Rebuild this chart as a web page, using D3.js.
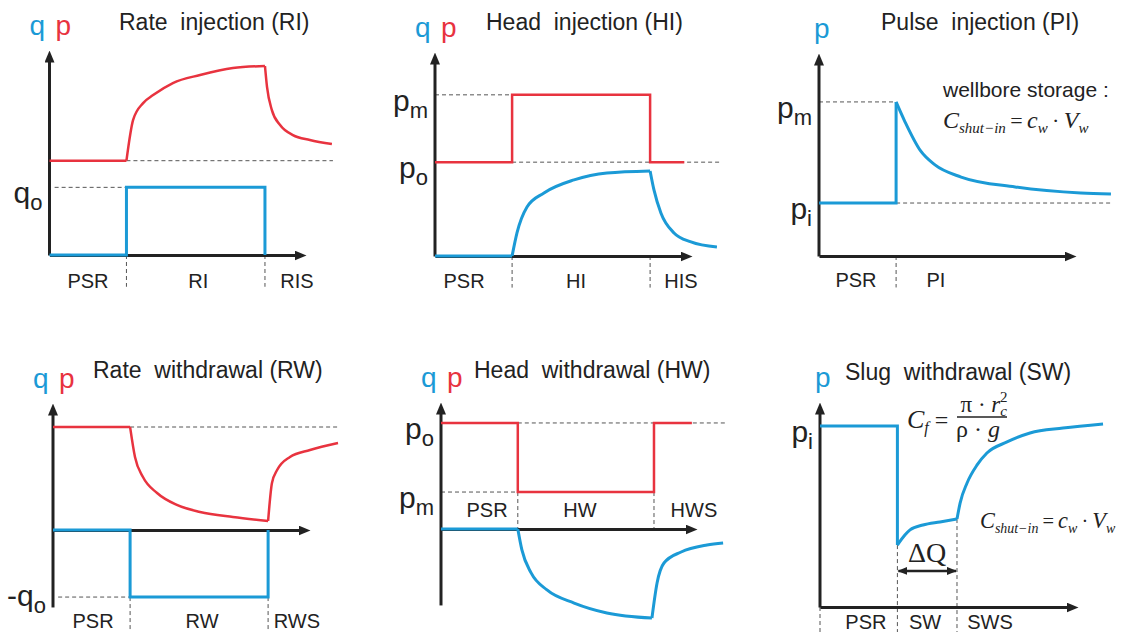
<!DOCTYPE html>
<html>
<meta charset="utf-8">
<style>
  body { margin: 0; background: #fff; }
  text { font-family: "Liberation Sans", Arial, sans-serif; fill: #222; }
  .title { font-size: 23px; white-space: pre; }
  .phase { font-size: 20px; text-anchor: middle; }
  .level { font-size: 30px; text-anchor: end; }
  .head { font-size: 28px; }
  .guide { stroke: #555; stroke-width: 1; stroke-dasharray: 4,3; fill: none; }
  .pline { stroke: #e8333f; stroke-width: 2.5; fill: none; stroke-linejoin: miter; }
  .qline { stroke: #1b9ad6; stroke-width: 3; fill: none; stroke-linejoin: miter; }
  .math { font-family: "Liberation Serif", "DejaVu Serif", serif; }
</style>
<body>
<div id="viz"></div>
<script src="https://d3js.org/d3.v7.min.js"></script>
<script>
// ---- data (time units 0..10 along x, level units 0..10 along y) ----
// each series is a list of pieces, pieces meet at sharp corners

// Rate injection
var riPressure = [
  [[0,4.6],[3.0,4.6]],
  [[3.0,4.6],[3.26,6.59],[3.65,7.41],[4.04,7.80],[4.81,8.39],[5.87,8.78],[7.15,9.12],[8.4,9.22]],
  [[8.4,9.22],[8.48,8.20],[8.67,7.07],[8.99,6.34],[9.49,5.85],[10.15,5.61],[11.01,5.41]]
];
var riRate = [[[0,0],[3.0,0],[3.0,3.3],[8.4,3.3],[8.4,0]]];
var riRefs = [[3.0,11.05,4.6],[0.2,3.0,3.3]];
var riDrops = [[3.0,0,-1.55],[8.4,0,-1.55]];
var riLevels = [["q","o",3.3]];
var riPhases = ["PSR","RI","RIS"];
var riPhaseAt = [1.5, 5.8, 9.65];

// Head injection
var hiPressure = [[[0,4.6],[3.0,4.6],[3.0,7.9],[8.37,7.9],[8.37,4.6],[9.7,4.6]]];
var hiRate = [
  [[0,0],[3.0,0]],
  [[3.0,0],[3.19,1.13],[3.58,2.40],[4.24,3.09],[5.41,3.73],[6.69,4.07],[8.37,4.17]],
  [[8.37,4.17],[8.52,3.24],[8.79,2.11],[9.30,1.13],[9.96,0.69],[10.97,0.44]]
];
var hiRefs = [[3.0,11.17,4.6],[0,3.0,7.9]];
var hiDrops = [[3.0,0,-1.55],[8.37,0,-1.55]];
var hiLevels = [["p","m",7.9],["p","o",4.6]];
var hiPhases = ["PSR","HI","HIS"];
var hiPhaseAt = [1.13, 5.49, 9.57];

// Pulse injection
var piPressure = [
  [[0,2.61],[3.0,2.61],[3.0,7.59]],
  [[3.0,7.59],[3.35,6.6],[3.94,5.2],[4.5,4.5],[5.53,3.89],[7.63,3.40],[10.19,3.10],[11.36,3.05]]
];
var piRefs = [[0,3.0,7.59],[3.0,11.36,2.61]];
var piDrops = [[3.0,0,-1.55]];
var piLevels = [["p","m",7.59],["p","i",2.61]];
var piPhases = ["PSR","PI"];
var piPhaseAt = [1.44, 4.55];

// Rate withdrawal
var rwPressure = [
  [[0,8.11],[3.0,8.11]],
  [[3.0,8.11],[3.19,5.75],[3.50,4.17],[4.05,2.91],[4.82,1.97],[5.72,1.42],[7.0,1.02],[8.37,0.71]],
  [[8.37,0.71],[8.52,3.70],[8.72,4.72],[9.22,5.75],[10.0,6.30],[11.09,6.85]]
];
var rwRate = [[[0,0],[3.0,0],[3.0,-5.28],[8.37,-5.28],[8.37,0]]];
var rwRefs = [[3.0,11.09,8.11],[0.2,3.0,-5.28]];
var rwDrops = [[3.0,-5.28,-8.0],[8.37,-5.28,-8.0]];
var rwLevels = [["-q","o",-5.28]];
var rwPhases = ["PSR","RW","RWS"];
var rwPhaseAt = [1.56, 5.8, 9.49];

// Head withdrawal
var hwPressure = [[[0,8.35],[3.0,8.35],[3.0,2.91],[8.32,2.91],[8.32,8.35],[9.8,8.35]]];
var hwRate = [
  [[0,0],[3.0,0]],
  [[3.0,0],[3.16,-1.65],[3.52,-3.46],[4.14,-4.80],[5.2,-5.83],[6.48,-6.61],[8.24,-7.01]],
  [[8.24,-7.01],[8.44,-4.25],[8.71,-2.68],[9.38,-1.81],[10.39,-1.26],[11.02,-1.10]]
];
var hwRefs = [[3.0,11.13,8.35],[0,3.0,2.91]];
var hwDrops = [[3.0,2.91,0],[8.32,2.91,0]];
var hwLevels = [["p","o",8.35],["p","m",2.91]];
var hwPhases = ["PSR","HW","HWS"];
var hwPhaseAt = [1.8, 5.43, 9.88];

// Slug withdrawal
var swPressure = [
  [[0,8.83],[3.0,8.83],[3.0,3.02]],
  [[3.0,3.02],[3.29,3.51],[3.49,3.76],[3.99,4.0],[4.65,4.15],[5.31,4.29]],
  [[5.31,4.29],[5.43,5.07],[5.70,6.05],[6.09,6.93],[6.47,7.51],[7.25,8.05],[8.14,8.49],[9.42,8.73],[10.97,8.93]]
];
var swRefs = [];
var swDrops = [[0,0,-1.22],[3.0,3.02,-1.22],[5.31,4.29,-1.22]];
var swLevels = [["p","i",8.83]];
var swPhases = ["PSR","SW","SWS"];
var swPhaseAt = [1.78, 4.07, 6.59];
var swDeltaQ = [3.0, 5.31, 1.76];

// ---- layout (pixels) ----
var panels = [
  {title:"Rate  injection (RI)", tx:119, tyT:30, ox:49.5, ax:306, oy:255, ty:50, yMin:0, phaseY:288, head:"qp",
   p:riPressure, q:riRate, refs:riRefs, drops:riDrops, levels:riLevels, phases:riPhases, phaseAt:riPhaseAt},
  {title:"Head  injection (HI)", tx:486, tyT:30, ox:435, ax:692, oy:256, ty:52, yMin:0, phaseY:288, head:"qp",
   p:hiPressure, q:hiRate, refs:hiRefs, drops:hiDrops, levels:hiLevels, phases:hiPhases, phaseAt:hiPhaseAt},
  {title:"Pulse  injection (PI)", tx:881, tyT:30, ox:819, ax:1076, oy:256, ty:53, yMin:0, phaseY:287, head:"p",
   p:[], q:piPressure, refs:piRefs, drops:piDrops, levels:piLevels, phases:piPhases, phaseAt:piPhaseAt},
  {title:"Rate  withdrawal (RW)", tx:93, tyT:378, ox:53, ax:310, oy:530, ty:403, yMin:-6.06, phaseY:628, head:"qp", levelDy:-7,
   p:rwPressure, q:rwRate, refs:rwRefs, drops:rwDrops, levels:rwLevels, phases:rwPhases, phaseAt:rwPhaseAt},
  {title:"Head  withdrawal (HW)", tx:474, tyT:378, ox:441, ax:697, oy:529, ty:402, yMin:-5.98, phaseY:517, head:"qp",
   p:hwPressure, q:hwRate, refs:hwRefs, drops:hwDrops, levels:hwLevels, phases:hwPhases, phaseAt:hwPhaseAt},
  {title:"Slug  withdrawal (SW)", tx:845, tyT:380, ox:820, ax:1078, oy:607, ty:402, yMin:0, phaseY:629, head:"p",
   p:[], q:swPressure, refs:swRefs, drops:swDrops, levels:swLevels, phases:swPhases, phaseAt:swPhaseAt}
];

var svg = d3.select("#viz").append("svg")
  .attr("width", 1121)
  .attr("height", 632);

var defs = svg.append("defs");
defs.append("marker").attr("id","head")
  .attr("viewBox","0 0 12 10").attr("refX",2).attr("refY",5)
  .attr("markerWidth",12).attr("markerHeight",10)
  .attr("markerUnits","userSpaceOnUse").attr("orient","auto-start-reverse")
  .append("path").attr("d","M0,0L12,5L0,10z").attr("fill","#222");
defs.append("marker").attr("id","small")
  .attr("viewBox","0 0 10 8").attr("refX",9).attr("refY",4)
  .attr("markerWidth",10).attr("markerHeight",8)
  .attr("markerUnits","userSpaceOnUse").attr("orient","auto-start-reverse")
  .append("path").attr("d","M0,0L10,4L0,8z").attr("fill","#222");

panels.forEach(function(cfg) {
  var x = d3.scaleLinear().domain([0,10]).range([cfg.ox, cfg.ax]);
  var y = d3.scaleLinear().domain([0,10]).range([cfg.oy, cfg.ty]);
  var g = svg.append("g");

  // dashed guides
  cfg.refs.forEach(function(r) {
    g.append("line").attr("class","guide")
      .attr("x1", x(r[0])).attr("x2", x(r[1]))
      .attr("y1", y(r[2])).attr("y2", y(r[2]));
  });
  cfg.drops.forEach(function(d) {
    g.append("line").attr("class","guide")
      .attr("x1", x(d[0])).attr("x2", x(d[0]))
      .attr("y1", y(d[1])).attr("y2", y(d[2]));
  });

  // axes: no ticks, only the domain line with an arrow head
  var xAx = d3.scaleLinear().domain([0,10]).range([cfg.ox, cfg.ax - 10]);
  var yAx = d3.scaleLinear().domain([cfg.yMin,10]).range([y(cfg.yMin), cfg.ty + 10]);
  g.append("g").attr("transform","translate(0," + y(0) + ")")
    .call(d3.axisBottom(xAx).tickValues([]).tickSizeOuter(0))
    .select(".domain").attr("stroke","#222").attr("stroke-width",3).attr("marker-end","url(#head)");
  g.append("g").attr("transform","translate(" + (cfg.ox - 0.5) + ",0)")
    .call(d3.axisLeft(yAx).tickValues([]).tickSizeOuter(0))
    .select(".domain").attr("stroke","#222").attr("stroke-width",3).attr("marker-end","url(#head)");

  function drawSeries(pieces, cls) {
    pieces.forEach(function(pc) {
      var steps = pc.some(function(p, i) { return i > 0 && p[0] === pc[i-1][0]; });
      var line = d3.line()
        .x(function(d) { return x(d[0]); })
        .y(function(d) { return y(d[1]); })
        .curve(steps ? d3.curveLinear : d3.curveMonotoneX);
      g.append("path").datum(pc).attr("class", cls).attr("d", line);
    });
  }
  drawSeries(cfg.p, "pline");
  drawSeries(cfg.q, "qline");

  // level labels with subscripts
  cfg.levels.forEach(function(l) {
    var t = g.append("text").attr("class","level")
      .attr("x", cfg.ox - 7)
      .attr("y", y(l[2]) + 16 + (cfg.levelDy || 0));
    t.append("tspan").text(l[0]);
    t.append("tspan").attr("font-size", 22).attr("dy", 7).text(l[1]);
  });

  // phase names
  cfg.phases.forEach(function(name, i) {
    g.append("text").attr("class","phase")
      .attr("x", x(cfg.phaseAt[i])).attr("y", cfg.phaseY).text(name);
  });

  // axis letters
  if (cfg.head === "qp") {
    g.append("text").attr("class","head").attr("x", cfg.ox - 20).attr("y", cfg.ty - 15)
      .style("fill","#1b9ad6").text("q");
    g.append("text").attr("class","head").attr("x", cfg.ox + 6).attr("y", cfg.ty - 15)
      .style("fill","#e8333f").text("p");
  } else {
    g.append("text").attr("class","head").attr("x", cfg.ox - 5).attr("y", cfg.ty - 15)
      .style("fill","#1b9ad6").text("p");
  }

  g.append("text").attr("class","title").attr("x", cfg.tx).attr("y", cfg.tyT).text(cfg.title);

  if (cfg.phases === swPhases) {
    g.append("line")
      .attr("x1", x(swDeltaQ[0]) + 1).attr("x2", x(swDeltaQ[1]) - 1)
      .attr("y1", y(swDeltaQ[2])).attr("y2", y(swDeltaQ[2]))
      .attr("stroke","#222").attr("stroke-width",2.5)
      .attr("marker-start","url(#small)").attr("marker-end","url(#small)");
    g.append("text").attr("class","math")
      .attr("x", (x(swDeltaQ[0]) + x(swDeltaQ[1])) / 2).attr("y", y(swDeltaQ[2]) - 9)
      .attr("text-anchor","middle").attr("font-size",28).text("\u0394Q");
  }
});

// ---- formulas ----
function shutIn(x0, y0, s) {
  var t = svg.append("text").attr("class","math").attr("x", x0).attr("y", y0).attr("font-size", 24 * s);
  t.append("tspan").attr("font-style","italic").text("C");
  t.append("tspan").attr("font-style","italic").attr("font-size",15 * s).attr("dy",5).text("shut\u2212in");
  t.append("tspan").attr("dy",-5).attr("font-size",22 * s).text("\u2009=\u2009");
  t.append("tspan").attr("font-style","italic").text("c");
  t.append("tspan").attr("font-style","italic").attr("font-size",15 * s).attr("dy",5).text("w");
  t.append("tspan").attr("dy",-5).attr("font-size",22 * s).text("\u2009\u00B7\u2009");
  t.append("tspan").attr("font-style","italic").text("V");
  t.append("tspan").attr("font-style","italic").attr("font-size",15 * s).attr("dy",5).text("w");
}

svg.append("text").attr("x", 943).attr("y", 97).attr("font-size", 21).text("wellbore storage :");
shutIn(943, 128, 1);
shutIn(980, 528, 0.93);

var cf = svg.append("text").attr("class","math").attr("x", 907).attr("y", 428).attr("font-size", 26);
cf.append("tspan").attr("font-style","italic").text("C");
cf.append("tspan").attr("font-style","italic").attr("font-size",16).attr("dy",5).text("f");
cf.append("tspan").attr("dy",-5).attr("font-size",24).text(" = ");
svg.append("line").attr("x1", 957).attr("x2", 1007).attr("y1", 417).attr("y2", 417)
  .attr("stroke","#222").attr("stroke-width",1.3);
var num = svg.append("text").attr("class","math").attr("x", 984).attr("y", 412)
  .attr("font-size", 23).attr("text-anchor","middle");
num.append("tspan").text("\u03C0 \u00B7 ");
num.append("tspan").attr("font-style","italic").text("r");
num.append("tspan").attr("font-style","italic").attr("font-size",15).attr("dy",4).text("c");
num.append("tspan").attr("font-size",15).attr("dx",-7).attr("dy",-14).text("2");
var den = svg.append("text").attr("class","math").attr("x", 978).attr("y", 437)
  .attr("font-size", 24).attr("text-anchor","middle");
den.append("tspan").text("\u03C1 \u00B7 ");
den.append("tspan").attr("font-style","italic").text("g");
</script>
</body>
</html>
